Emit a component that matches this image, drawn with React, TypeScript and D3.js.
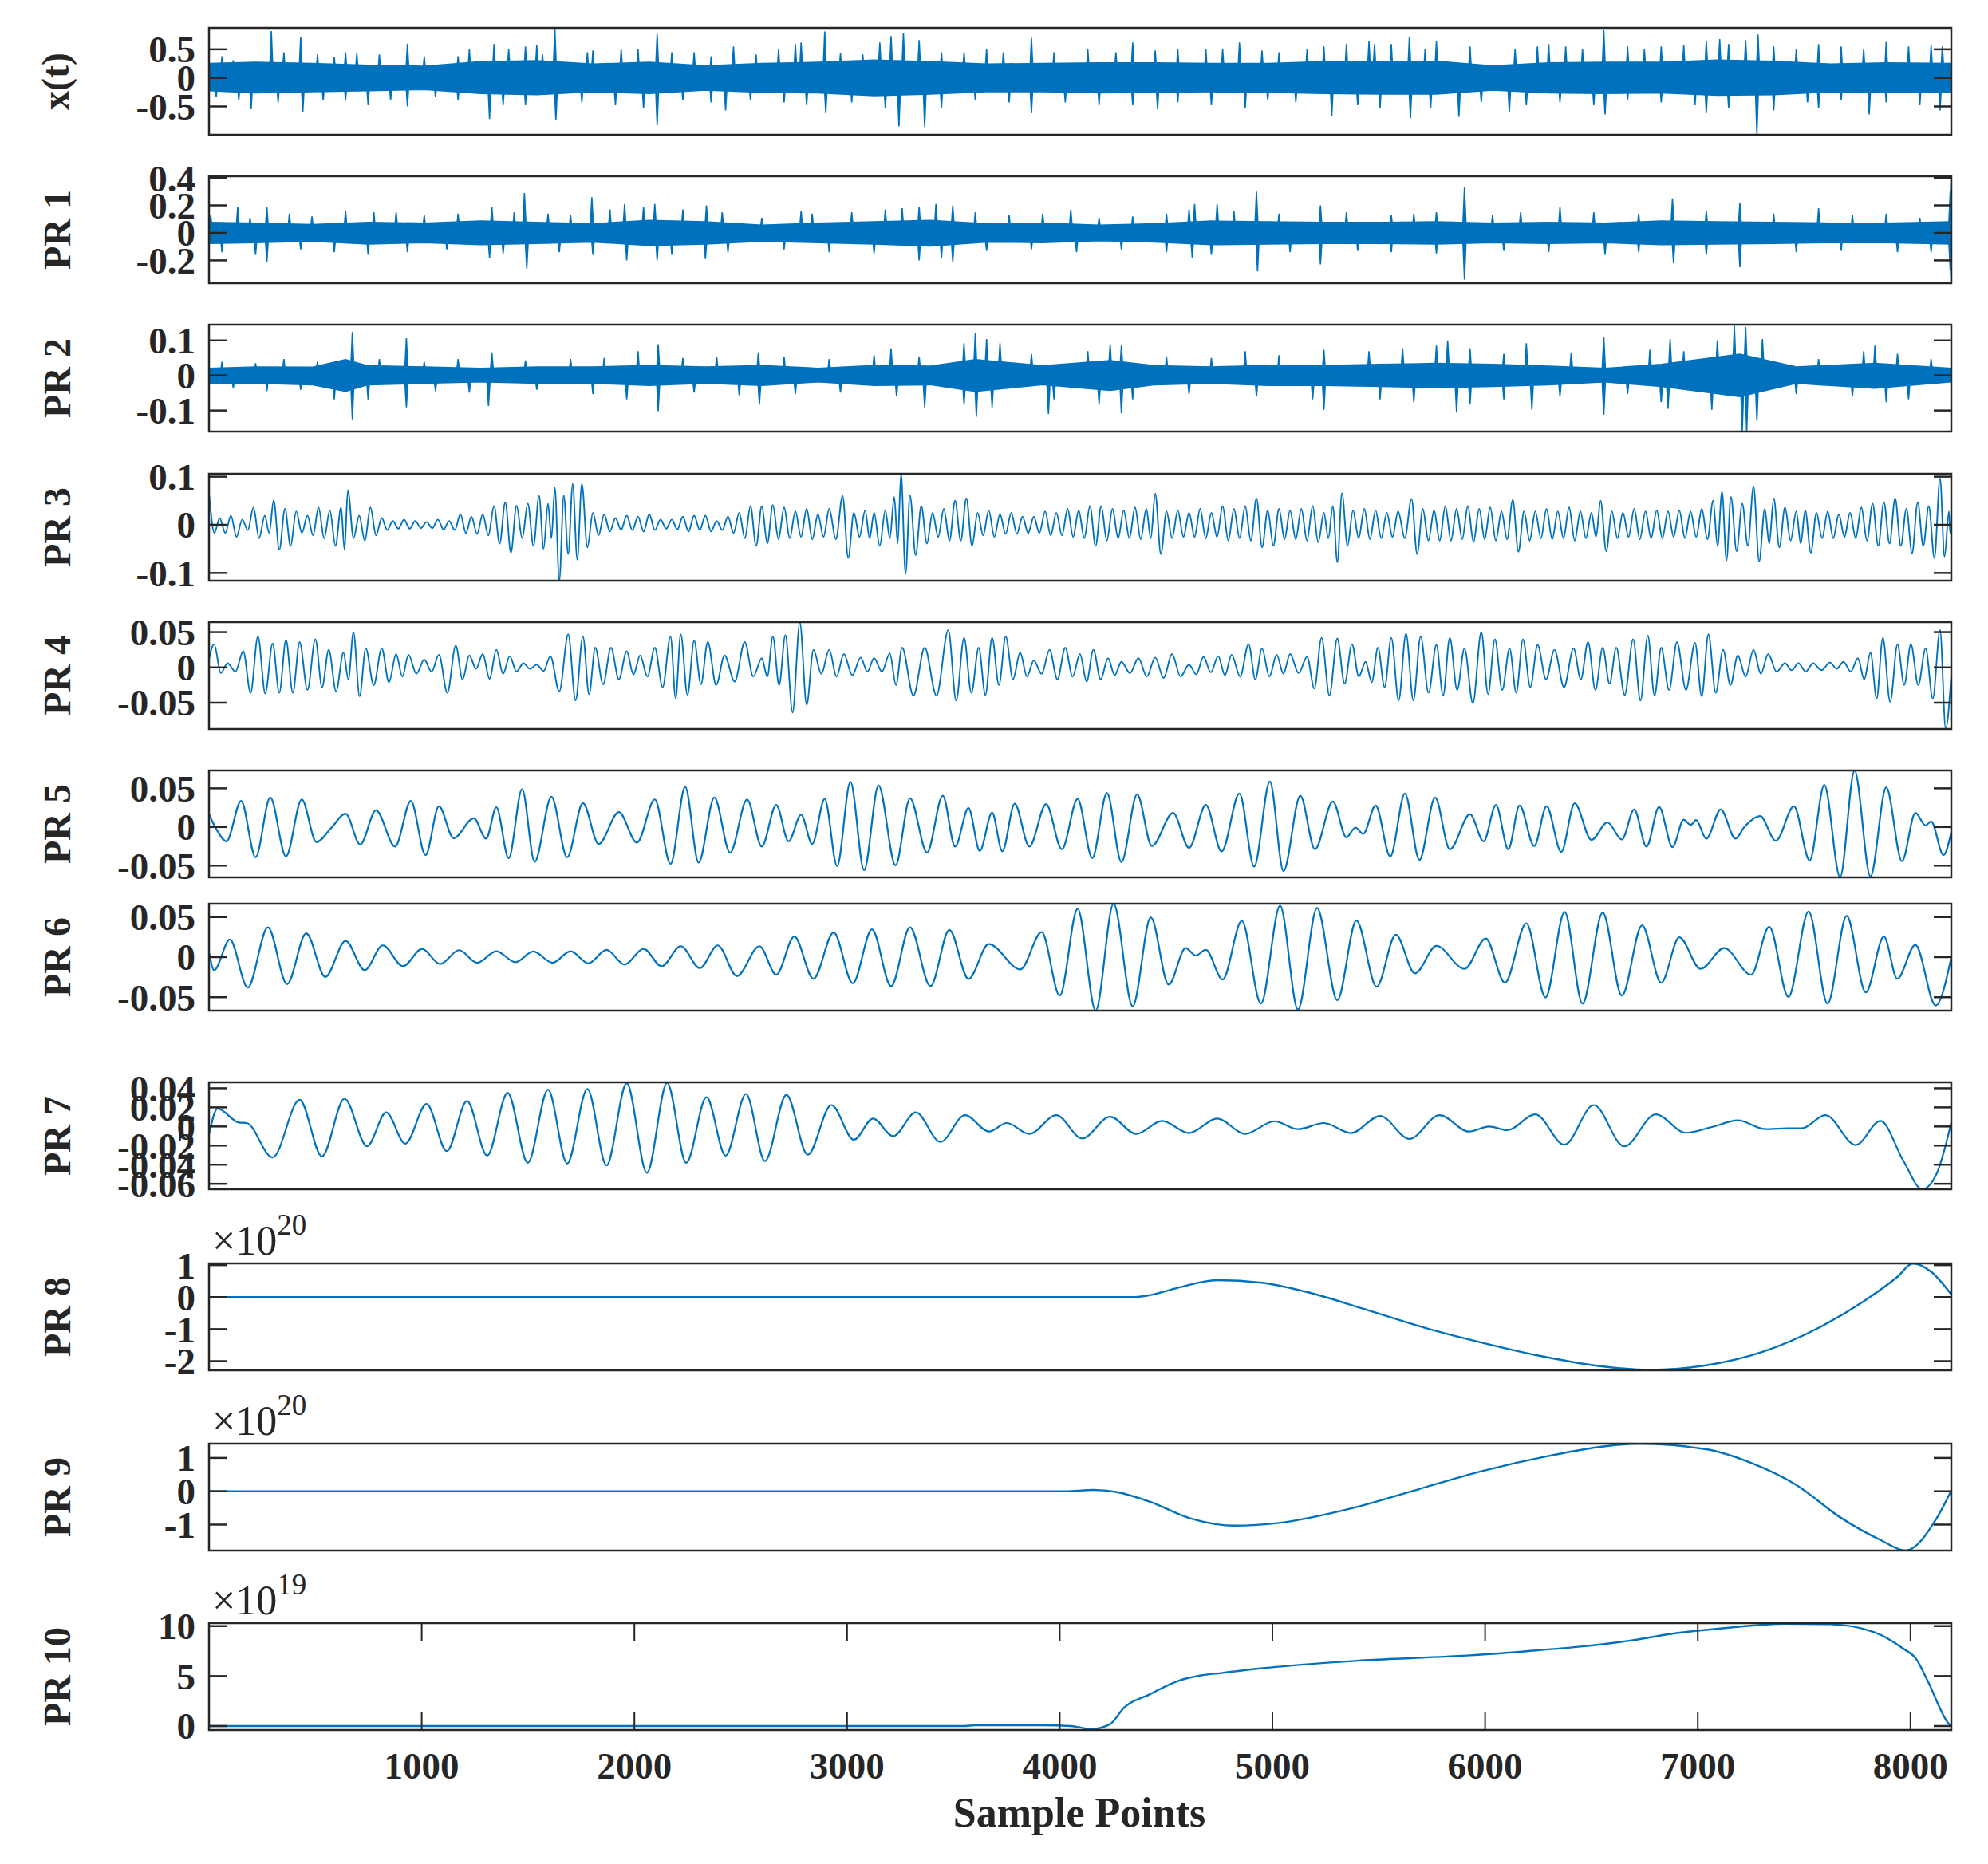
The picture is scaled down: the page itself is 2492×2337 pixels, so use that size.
import React from 'react';
import * as d3 from 'd3';

// ---- data (sample index, value) ----

const sampleTicks = [1000, 2000, 3000, 4000, 5000, 6000, 7000, 8000];
const panelNames = ['x(t)', 'PR 1', 'PR 2', 'PR 3', 'PR 4', 'PR 5', 'PR 6', 'PR 7', 'PR 8', 'PR 9', 'PR 10'];
const yDomains: [number, number][] = [
  [-0.996, 0.875], [-0.366, 0.412], [-0.16, 0.145], [-0.116, 0.106], [-0.0873, 0.0642],
  [-0.0652, 0.0731], [-0.0667, 0.0667], [-0.0657, 0.0462], [-2.286, 1.053], [-1.778, 1.428], [-0.4, 10.3],
];
const yTicks = [
  [-0.5, 0, 0.5], [-0.2, 0, 0.2, 0.4], [-0.1, 0, 0.1], [-0.1, 0, 0.1], [-0.05, 0, 0.05],
  [-0.05, 0, 0.05], [-0.05, 0, 0.05], [-0.06, -0.04, -0.02, 0, 0.02, 0.04], [-2, -1, 0, 1], [-1, 0, 1], [0, 5, 10],
];
const exponents = [0, 0, 0, 0, 0, 0, 0, 0, 20, 20, 19];

// dense signals: [sample, upper, lower] of the solid band + spikes sticking out of it
const xtBand = [
  [1, 0.25, -0.22], [219, 0.27, -0.26], [484, 0.25, -0.24], [748, 0.22, -0.22], [1012, 0.2, -0.2],
  [1277, 0.28, -0.27], [1541, 0.3, -0.29], [1805, 0.24, -0.24], [2070, 0.27, -0.27], [2334, 0.21, -0.21],
  [2599, 0.25, -0.25], [2863, 0.27, -0.26], [3127, 0.31, -0.31], [3392, 0.28, -0.28], [3656, 0.24, -0.24],
  [3920, 0.25, -0.24], [4185, 0.26, -0.26], [4449, 0.26, -0.25], [4713, 0.25, -0.24], [4978, 0.25, -0.25],
  [5242, 0.28, -0.27], [5506, 0.28, -0.28], [5771, 0.29, -0.28], [6035, 0.21, -0.21], [6299, 0.26, -0.26],
  [6564, 0.27, -0.27], [6828, 0.27, -0.26], [7092, 0.31, -0.3], [7357, 0.29, -0.29], [7621, 0.24, -0.24],
  [7886, 0.26, -0.25], [8192, 0.25, -0.25],
];
const xtSpikes = [
  [293, 0.82], [431, 0.71], [642, 0.45], [933, 0.6], [1340, 0.59], [1541, 0.57], [1626, 0.87], [1805, 0.48],
  [2107, 0.77], [2466, 0.55], [2784, 0.62], [2895, 0.81], [3265, 0.78], [3339, 0.66], [3867, 0.7], [4343, 0.62],
  [4845, 0.62], [5242, 0.55], [5480, 0.59], [5644, 0.72], [5771, 0.64], [6299, 0.59], [6558, 0.84], [6828, 0.55],
  [7103, 0.68], [7283, 0.76], [7568, 0.59], [7886, 0.63], [8097, 0.57],
  [198, -0.55], [441, -0.6], [748, -0.48], [933, -0.5], [1319, -0.72], [1631, -0.74], [2107, -0.83], [2429, -0.57],
  [2900, -0.62], [3244, -0.85], [3365, -0.86], [3867, -0.62], [4460, -0.55], [4872, -0.53], [5279, -0.67],
  [5649, -0.71], [5877, -0.68], [6114, -0.6], [6564, -0.64], [7040, -0.62], [7278, -0.99], [7568, -0.53],
  [7806, -0.64], [8139, -0.57],
  [61, 0.38], [114, 0.31], [352, 0.45], [510, 0.41], [589, 0.36], [695, 0.43], [801, 0.41], [1012, 0.38],
  [1171, 0.38], [1224, 0.5], [1409, 0.5], [1488, 0.55], [1568, 0.41], [1779, 0.45], [1938, 0.5], [2017, 0.5],
  [2176, 0.45], [2281, 0.45], [2361, 0.38], [2572, 0.41], [2678, 0.5], [2757, 0.59], [2969, 0.43], [3074, 0.41],
  [3154, 0.62], [3207, 0.73], [3444, 0.45], [3550, 0.45], [3656, 0.5], [3735, 0.45], [3973, 0.45], [4132, 0.5],
  [4264, 0.45], [4449, 0.48], [4555, 0.5], [4687, 0.5], [4766, 0.5], [4951, 0.48], [5031, 0.45], [5163, 0.5],
  [5348, 0.59], [5454, 0.64], [5559, 0.59], [5718, 0.5], [5929, 0.55], [6141, 0.5], [6246, 0.55], [6379, 0.55],
  [6458, 0.5], [6670, 0.55], [6749, 0.5], [6934, 0.57], [7040, 0.64], [7145, 0.59], [7225, 0.66], [7357, 0.55],
  [7463, 0.5], [7674, 0.55], [7780, 0.5], [7991, 0.55], [8150, 0.55],
  [34, -0.34], [140, -0.39], [325, -0.43], [537, -0.39], [642, -0.39], [854, -0.39], [1065, -0.34], [1171, -0.39],
  [1383, -0.48], [1488, -0.48], [1753, -0.43], [1911, -0.48], [2043, -0.53], [2228, -0.39], [2361, -0.43],
  [2546, -0.39], [2704, -0.43], [2810, -0.48], [3022, -0.43], [3180, -0.53], [3444, -0.53], [3603, -0.39],
  [3762, -0.43], [4026, -0.43], [4185, -0.48], [4343, -0.48], [4555, -0.43], [4713, -0.48], [4978, -0.39],
  [5110, -0.43], [5401, -0.48], [5506, -0.53], [5744, -0.53], [5982, -0.43], [6194, -0.48], [6352, -0.43],
  [6511, -0.48], [6670, -0.39], [6828, -0.43], [6987, -0.48], [7145, -0.53], [7357, -0.57], [7516, -0.43],
  [7674, -0.39], [7886, -0.43], [8044, -0.48],
];

const pr1Band = [
  [1, 0.075, -0.075], [219, 0.07, -0.07], [484, 0.06, -0.06], [748, 0.075, -0.08], [1012, 0.07, -0.07],
  [1277, 0.085, -0.085], [1541, 0.075, -0.075], [1805, 0.065, -0.065], [2070, 0.09, -0.09], [2334, 0.08, -0.08],
  [2599, 0.055, -0.06], [2863, 0.07, -0.07], [3127, 0.08, -0.08], [3392, 0.09, -0.095], [3656, 0.065, -0.065],
  [3920, 0.07, -0.07], [4185, 0.055, -0.055], [4449, 0.065, -0.065], [4713, 0.085, -0.085], [4978, 0.08, -0.08],
  [5242, 0.075, -0.075], [5506, 0.075, -0.075], [5771, 0.08, -0.08], [6035, 0.07, -0.07], [6299, 0.075, -0.075],
  [6564, 0.07, -0.07], [6828, 0.085, -0.085], [7092, 0.08, -0.08], [7357, 0.075, -0.075], [7621, 0.07, -0.07],
  [7886, 0.07, -0.07], [8192, 0.08, -0.08],
];
const pr1Spikes = [
  [135, 0.19], [272, 0.19], [775, 0.15], [1330, 0.19], [1483, 0.29], [1800, 0.26], [1954, 0.21], [2096, 0.21],
  [2339, 0.2], [2784, 0.16], [3259, 0.18], [3418, 0.21], [3497, 0.2], [4052, 0.17], [4634, 0.21], [4740, 0.21],
  [4925, 0.3], [5226, 0.2], [5559, 0.13], [5903, 0.33], [6352, 0.19], [6881, 0.25], [7198, 0.22], [7568, 0.18],
  [8044, 0.11], [8187, 0.3], [8191, 0.41],
  [272, -0.21], [748, -0.16], [1319, -0.18], [1494, -0.26], [1964, -0.2], [2107, -0.2], [2334, -0.19],
  [3339, -0.2], [3497, -0.21], [4079, -0.14], [4623, -0.18], [4930, -0.28], [5226, -0.23], [5903, -0.34],
  [6564, -0.16], [6886, -0.22], [7198, -0.25], [7939, -0.14], [8187, -0.27], [8191, -0.366],
  [8, 0.13], [193, 0.11], [378, 0.14], [484, 0.12], [642, 0.16], [880, 0.15], [1012, 0.13], [1171, 0.14],
  [1435, 0.15], [1594, 0.14], [1700, 0.13], [1885, 0.17], [2043, 0.19], [2228, 0.17], [2413, 0.15], [2599, 0.11],
  [2836, 0.14], [3022, 0.15], [3180, 0.17], [3339, 0.19], [3603, 0.15], [3762, 0.13], [3920, 0.14], [4185, 0.11],
  [4343, 0.12], [4502, 0.14], [4608, 0.17], [4819, 0.16], [5031, 0.14], [5348, 0.15], [5665, 0.14], [5771, 0.15],
  [6035, 0.13], [6167, 0.15], [6511, 0.15], [6722, 0.14], [7040, 0.16], [7357, 0.14], [7727, 0.13], [7886, 0.14],
  [61, -0.14], [219, -0.16], [431, -0.12], [589, -0.14], [933, -0.14], [1118, -0.12], [1383, -0.15], [1647, -0.14],
  [1805, -0.16], [2176, -0.16], [2440, -0.14], [2704, -0.12], [2916, -0.14], [3127, -0.15], [3444, -0.18],
  [3656, -0.13], [3867, -0.12], [4290, -0.12], [4502, -0.14], [4713, -0.16], [5083, -0.14], [5401, -0.13],
  [5559, -0.14], [5771, -0.15], [6088, -0.13], [6299, -0.14], [6722, -0.14], [7040, -0.16], [7463, -0.14],
  [7674, -0.13], [8097, -0.14],
];

const pr2Band = [
  [1, 0.02, -0.022], [219, 0.024, -0.022], [484, 0.023, -0.026], [642, 0.045, -0.045], [748, 0.027, -0.026],
  [1012, 0.024, -0.022], [1277, 0.02, -0.018], [1541, 0.024, -0.022], [1805, 0.024, -0.022], [2070, 0.028, -0.028],
  [2334, 0.024, -0.022], [2599, 0.028, -0.028], [2863, 0.02, -0.018], [3127, 0.028, -0.028], [3392, 0.026, -0.026],
  [3603, 0.045, -0.045], [3920, 0.027, -0.026], [4237, 0.042, -0.042], [4449, 0.027, -0.026], [4713, 0.024, -0.022],
  [4978, 0.028, -0.028], [5242, 0.028, -0.028], [5506, 0.031, -0.031], [5771, 0.034, -0.034], [6035, 0.031, -0.031],
  [6299, 0.026, -0.026], [6564, 0.02, -0.018], [6828, 0.031, -0.031], [7198, 0.06, -0.06], [7463, 0.024, -0.022],
  [7833, 0.034, -0.036], [8192, 0.02, -0.018],
];
const pr2Spikes = [
  [674, 0.124], [928, 0.106], [1330, 0.066], [2112, 0.089], [2583, 0.066], [3207, 0.077], [3603, 0.121],
  [3719, 0.092], [4290, 0.085], [4872, 0.069], [5242, 0.073], [5824, 0.1], [6194, 0.092], [6558, 0.111],
  [6870, 0.104], [7172, 0.142], [7225, 0.138], [7833, 0.085],
  [674, -0.125], [928, -0.091], [1314, -0.087], [2112, -0.102], [2588, -0.083], [3365, -0.091], [3608, -0.118],
  [3947, -0.11], [4290, -0.108], [5242, -0.098], [5866, -0.106], [6220, -0.098], [6558, -0.112], [6860, -0.095],
  [7209, -0.16], [7230, -0.16], [7886, -0.076],
  [61, 0.039], [219, 0.035], [352, 0.047], [510, 0.039], [801, 0.047], [1012, 0.039], [1171, 0.047], [1488, 0.043],
  [1700, 0.047], [1858, 0.05], [2017, 0.069], [2228, 0.05], [2387, 0.054], [2704, 0.054], [2916, 0.047],
  [3127, 0.058], [3339, 0.054], [3550, 0.092], [3656, 0.104], [3867, 0.062], [4132, 0.069], [4237, 0.089],
  [4502, 0.054], [4713, 0.05], [5031, 0.058], [5454, 0.069], [5612, 0.077], [5771, 0.085], [5929, 0.077],
  [6088, 0.062], [6405, 0.066], [6775, 0.073], [6934, 0.069], [7092, 0.1], [7304, 0.104], [7568, 0.047],
  [7780, 0.069], [7939, 0.062], [8097, 0.047],
  [114, -0.037], [272, -0.045], [431, -0.041], [589, -0.068], [748, -0.068], [1065, -0.045], [1224, -0.049],
  [1541, -0.041], [1805, -0.053], [1964, -0.068], [2281, -0.049], [2493, -0.056], [2757, -0.053], [2969, -0.049],
  [3233, -0.06], [3550, -0.083], [3682, -0.091], [3973, -0.068], [4185, -0.083], [4343, -0.068], [4608, -0.053],
  [4925, -0.06], [5189, -0.068], [5506, -0.068], [5665, -0.076], [5929, -0.083], [6088, -0.068], [6352, -0.06],
  [6670, -0.053], [6828, -0.076], [7066, -0.098], [7278, -0.129], [7463, -0.053], [7727, -0.06], [7991, -0.068],
];

// oscillating signals: [sample, peak, following trough]
const pr3Cycles = [
  [1, 0.061, -0.017], [50, 0.014, -0.017], [103, 0.019, -0.025], [156, 0.011, -0.011], [209, 0.036, -0.028],
  [262, 0.019, -0.017], [304, 0.051, -0.052], [357, 0.033, -0.044], [410, 0.028, -0.017], [463, 0.019, -0.022],
  [515, 0.036, -0.028], [568, 0.03, -0.044], [621, 0.036, -0.052], [653, 0.072, -0.028], [706, 0.019, -0.033],
  [759, 0.036, -0.022], [812, 0.014, -0.011], [864, 0.008, -0.008], [917, 0.011, -0.008], [970, 0.008, -0.007],
  [1023, 0.006, -0.007], [1076, 0.011, -0.01], [1129, 0.008, -0.011], [1182, 0.022, -0.017], [1234, 0.017, -0.019],
  [1287, 0.022, -0.022], [1340, 0.039, -0.039], [1393, 0.047, -0.058], [1446, 0.04, -0.028], [1499, 0.044, -0.044],
  [1552, 0.06, -0.05], [1594, 0.044, -0.028], [1626, 0.077, -0.116], [1668, 0.061, -0.061], [1710, 0.085, -0.072],
  [1753, 0.085, -0.047], [1805, 0.025, -0.022], [1858, 0.022, -0.014], [1911, 0.014, -0.011], [1964, 0.019, -0.011],
  [2017, 0.017, -0.014], [2070, 0.022, -0.011], [2123, 0.011, -0.008], [2176, 0.011, -0.01], [2228, 0.017, -0.014],
  [2281, 0.019, -0.011], [2334, 0.019, -0.014], [2387, 0.008, -0.011], [2440, 0.017, -0.017], [2493, 0.025, -0.028],
  [2546, 0.039, -0.044], [2599, 0.039, -0.039], [2651, 0.041, -0.03], [2704, 0.036, -0.028], [2757, 0.028, -0.025],
  [2810, 0.033, -0.03], [2863, 0.022, -0.025], [2916, 0.033, -0.03], [2979, 0.06, -0.069], [3032, 0.025, -0.025],
  [3085, 0.03, -0.028], [3127, 0.025, -0.044], [3180, 0.03, -0.028], [3222, 0.058, -0.039], [3254, 0.106, -0.102],
  [3296, 0.061, -0.063], [3349, 0.039, -0.039], [3402, 0.025, -0.025], [3455, 0.033, -0.033], [3508, 0.05, -0.033],
  [3561, 0.055, -0.044], [3614, 0.025, -0.022], [3666, 0.03, -0.025], [3719, 0.022, -0.019], [3772, 0.025, -0.019],
  [3825, 0.017, -0.017], [3878, 0.017, -0.017], [3931, 0.028, -0.022], [3984, 0.025, -0.022], [4037, 0.033, -0.025],
  [4089, 0.03, -0.028], [4142, 0.039, -0.044], [4195, 0.039, -0.033], [4248, 0.033, -0.028], [4301, 0.03, -0.028],
  [4354, 0.036, -0.03], [4407, 0.033, -0.028], [4449, 0.065, -0.061], [4502, 0.028, -0.028], [4555, 0.03, -0.025],
  [4608, 0.025, -0.025], [4660, 0.033, -0.028], [4713, 0.025, -0.025], [4766, 0.039, -0.033], [4819, 0.033, -0.028],
  [4872, 0.039, -0.033], [4925, 0.055, -0.047], [4978, 0.03, -0.044], [5031, 0.033, -0.03], [5083, 0.03, -0.03],
  [5136, 0.033, -0.033], [5189, 0.039, -0.036], [5242, 0.025, -0.028], [5284, 0.039, -0.078], [5327, 0.066, -0.044],
  [5379, 0.03, -0.028], [5432, 0.033, -0.03], [5485, 0.03, -0.028], [5538, 0.025, -0.025], [5591, 0.028, -0.028],
  [5654, 0.054, -0.061], [5707, 0.033, -0.033], [5760, 0.03, -0.033], [5813, 0.039, -0.033], [5866, 0.033, -0.03],
  [5919, 0.039, -0.036], [5972, 0.033, -0.03], [6024, 0.036, -0.033], [6077, 0.028, -0.03], [6130, 0.052, -0.056],
  [6183, 0.028, -0.033], [6236, 0.028, -0.028], [6289, 0.033, -0.03], [6342, 0.028, -0.028], [6395, 0.036, -0.033],
  [6448, 0.028, -0.028], [6500, 0.025, -0.025], [6543, 0.05, -0.055], [6596, 0.028, -0.028], [6648, 0.025, -0.025],
  [6701, 0.033, -0.03], [6754, 0.028, -0.028], [6807, 0.03, -0.028], [6860, 0.028, -0.025], [6913, 0.03, -0.028],
  [6966, 0.028, -0.025], [7019, 0.033, -0.03], [7072, 0.05, -0.044], [7114, 0.069, -0.074], [7156, 0.058, -0.055],
  [7209, 0.044, -0.044], [7262, 0.08, -0.076], [7315, 0.033, -0.039], [7357, 0.055, -0.047], [7410, 0.036, -0.033],
  [7463, 0.028, -0.039], [7505, 0.03, -0.058], [7558, 0.025, -0.028], [7611, 0.028, -0.028], [7663, 0.022, -0.025],
  [7716, 0.025, -0.028], [7769, 0.036, -0.033], [7822, 0.044, -0.044], [7875, 0.047, -0.039], [7928, 0.055, -0.044],
  [7981, 0.033, -0.059], [8034, 0.047, -0.044], [8086, 0.039, -0.069], [8139, 0.096, -0.066], [8181, 0.028, -0.017],
];
const pr3End = [8192, -0.01];

const pr4Cycles = [
  [24, 0.033, -0.008], [87, 0.006, -0.006], [161, 0.023, -0.036], [230, 0.044, -0.037], [299, 0.034, -0.036],
  [362, 0.039, -0.036], [426, 0.036, -0.032], [500, 0.04, -0.028], [563, 0.025, -0.034], [632, 0.021, -0.017],
  [679, 0.05, -0.041], [737, 0.027, -0.025], [812, 0.027, -0.021], [880, 0.019, -0.013], [938, 0.018, -0.009],
  [1012, 0.011, -0.006], [1081, 0.018, -0.036], [1160, 0.031, -0.017], [1224, 0.017, -0.002], [1287, 0.019, -0.016],
  [1351, 0.025, -0.009], [1414, 0.016, -0.006], [1478, 0.006, -0.002], [1541, 0.004, -0.005], [1605, 0.016, -0.034],
  [1689, 0.047, -0.047], [1758, 0.044, -0.038], [1816, 0.028, -0.024], [1890, 0.028, -0.017], [1964, 0.023, -0.01],
  [2027, 0.017, -0.013], [2096, 0.028, -0.028], [2170, 0.044, -0.044], [2218, 0.047, -0.039], [2281, 0.038, -0.024],
  [2345, 0.036, -0.025], [2424, 0.017, -0.02], [2519, 0.036, -0.013], [2599, 0.013, -0.013], [2651, 0.044, -0.025],
  [2710, 0.046, -0.064], [2778, 0.064, -0.053], [2842, 0.025, -0.009], [2916, 0.025, -0.013], [2985, 0.019, -0.011],
  [3064, 0.014, -0.006], [3127, 0.013, -0.006], [3201, 0.02, -0.025], [3259, 0.028, -0.04], [3365, 0.028, -0.04],
  [3476, 0.053, -0.047], [3550, 0.042, -0.036], [3619, 0.028, -0.039], [3682, 0.042, -0.025], [3746, 0.044, -0.017],
  [3814, 0.021, -0.013], [3878, 0.01, -0.009], [3952, 0.025, -0.017], [4026, 0.028, -0.013], [4095, 0.019, -0.02],
  [4158, 0.025, -0.017], [4227, 0.013, -0.011], [4290, 0.008, -0.008], [4370, 0.013, -0.013], [4449, 0.014, -0.015],
  [4528, 0.019, -0.013], [4608, 0.004, -0.01], [4676, 0.015, -0.007], [4745, 0.016, -0.011], [4808, 0.018, -0.013],
  [4888, 0.033, -0.017], [4951, 0.027, -0.013], [5020, 0.018, -0.009], [5083, 0.019, -0.008], [5163, 0.015, -0.03],
  [5231, 0.042, -0.04], [5305, 0.041, -0.023], [5374, 0.033, -0.013], [5438, 0.008, -0.021], [5496, 0.028, -0.028],
  [5559, 0.042, -0.047], [5628, 0.048, -0.047], [5697, 0.044, -0.036], [5771, 0.032, -0.04], [5834, 0.042, -0.032],
  [5903, 0.027, -0.051], [5982, 0.05, -0.038], [6046, 0.04, -0.032], [6115, 0.027, -0.036], [6178, 0.04, -0.028],
  [6247, 0.032, -0.017], [6326, 0.025, -0.028], [6416, 0.027, -0.017], [6484, 0.036, -0.032], [6553, 0.028, -0.023],
  [6617, 0.028, -0.039], [6696, 0.04, -0.047], [6765, 0.045, -0.04], [6828, 0.028, -0.032], [6902, 0.036, -0.032],
  [6987, 0.035, -0.041], [7050, 0.047, -0.036], [7119, 0.025, -0.025], [7188, 0.017, -0.013], [7262, 0.025, -0.009],
  [7331, 0.019, -0.006], [7410, 0.006, -0.004], [7473, 0.006, -0.006], [7542, 0.006, -0.004], [7621, 0.007, -0.002],
  [7685, 0.008, -0.006], [7753, 0.013, -0.017], [7812, 0.021, -0.044], [7870, 0.042, -0.049], [7939, 0.033, -0.025],
  [8002, 0.033, -0.025], [8071, 0.027, -0.044], [8139, 0.053, -0.087],
];
const pr4Start = [1, 0.013];
const pr4End = [8192, -0.01];

// smooth modes: extrema [sample, value]
const pr5Points = [
  [1, 0.016], [40, -0.0055], [82, -0.0186], [151, 0.0337], [219, -0.0392], [288, 0.0381], [362, -0.0381],
  [436, 0.0357], [505, -0.0196], [574, -0.0014], [642, 0.0172], [711, -0.0227], [785, 0.0216], [875, -0.0254],
  [949, 0.0337], [1018, -0.0364], [1081, 0.0268], [1150, -0.0144], [1245, 0.0113], [1303, -0.0151], [1351, 0.0254],
  [1409, -0.0405], [1472, 0.0491], [1531, -0.045], [1610, 0.0392], [1684, -0.0392], [1758, 0.0309], [1832, -0.022],
  [1927, 0.0192], [2012, -0.0203], [2096, 0.0357], [2170, -0.0478], [2239, 0.0519], [2302, -0.046], [2376, 0.0381],
  [2450, -0.0333], [2530, 0.0357], [2599, -0.0254], [2667, 0.0285], [2725, -0.0186], [2784, 0.0158], [2836, -0.022],
  [2895, 0.0364], [2953, -0.0505], [3016, 0.0584], [3080, -0.0557], [3148, 0.0536], [3228, -0.0495], [3296, 0.0371],
  [3376, -0.033], [3450, 0.0405], [3508, -0.0254], [3571, 0.0244], [3624, -0.0309], [3682, 0.0186], [3730, -0.0316],
  [3788, 0.0302], [3857, -0.0254], [3936, 0.0296], [4010, -0.0289], [4084, 0.0364], [4153, -0.0402], [4222, 0.044],
  [4290, -0.0454], [4364, 0.0423], [4433, -0.0247], [4533, 0.0182], [4608, -0.0271], [4687, 0.0285], [4761, -0.0316],
  [4845, 0.0433], [4914, -0.0512], [4988, 0.0588], [5052, -0.057], [5131, 0.0405], [5200, -0.0289], [5284, 0.033],
  [5348, -0.0134], [5390, -0.0007], [5427, -0.0089], [5485, 0.0278], [5554, -0.0381], [5623, 0.0433], [5691, -0.0426],
  [5765, 0.0381], [5834, -0.0289], [5929, 0.0165], [5993, -0.0186], [6051, 0.0285], [6109, -0.0289], [6162, 0.0278],
  [6231, -0.0247], [6289, 0.0268], [6358, -0.0323], [6421, 0.0306], [6500, -0.0168], [6575, 0.006], [6643, -0.0162],
  [6701, 0.0227], [6759, -0.0254], [6818, 0.0261], [6881, -0.0261], [6934, 0.0096], [6966, 0.0027], [6992, 0.0089],
  [7040, -0.0151], [7108, 0.0227], [7177, -0.0151], [7219, 0.0], [7293, 0.0141], [7367, -0.0179], [7452, 0.0268],
  [7526, -0.0433], [7595, 0.0543], [7669, -0.0649], [7737, 0.073], [7812, -0.0639], [7886, 0.0512], [7960, -0.0443],
  [8023, 0.0182], [8071, 0.002], [8097, 0.0072], [8155, -0.0364], [8192, -0.0065],
];

const pr6Points = [
  [1, 0.0047], [24, -0.0163], [98, 0.022], [182, -0.038], [277, 0.0373], [367, -0.0337], [457, 0.0297],
  [547, -0.0247], [642, 0.0203], [732, -0.0163], [817, 0.0147], [912, -0.0113], [1002, 0.0103], [1086, -0.0087],
  [1176, 0.0087], [1261, -0.007], [1351, 0.0073], [1441, -0.0063], [1525, 0.007], [1615, -0.007], [1700, 0.0073],
  [1784, -0.0077], [1869, 0.009], [1954, -0.0093], [2043, 0.0103], [2128, -0.0113], [2218, 0.0137], [2308, -0.0137],
  [2392, 0.0147], [2482, -0.0237], [2588, 0.0137], [2667, -0.022], [2752, 0.0257], [2842, -0.027], [2937, 0.0307],
  [3027, -0.0327], [3117, 0.0347], [3207, -0.0363], [3296, 0.0373], [3392, -0.0363], [3481, 0.034], [3571, -0.0273],
  [3666, 0.0163], [3815, -0.0153], [3915, 0.0313], [4000, -0.048], [4084, 0.0603], [4169, -0.0667], [4253, 0.0667],
  [4343, -0.0613], [4428, 0.0497], [4512, -0.0343], [4592, 0.0113], [4639, 0.002], [4687, 0.009], [4766, -0.028],
  [4856, 0.0453], [4946, -0.058], [5036, 0.064], [5120, -0.0653], [5210, 0.0613], [5305, -0.0537], [5395, 0.0457],
  [5490, -0.037], [5580, 0.028], [5670, -0.0203], [5771, 0.014], [5903, -0.0147], [6003, 0.0233], [6093, -0.032],
  [6194, 0.0423], [6284, -0.0503], [6374, 0.0563], [6458, -0.058], [6553, 0.0557], [6643, -0.048], [6738, 0.0397],
  [6828, -0.032], [6913, 0.0247], [7013, -0.0147], [7124, 0.0113], [7251, -0.022], [7336, 0.038], [7426, -0.0497],
  [7521, 0.057], [7610, -0.058], [7700, 0.0513], [7790, -0.044], [7875, 0.0257], [7938, -0.027], [8023, 0.0153],
  [8118, -0.0603], [8192, -0.0003],
];

const pr7Points = [
  [1, -0.0075], [40, 0.0188], [140, 0.0042], [177, 0.0036], [299, -0.0324], [426, 0.028], [531, -0.0313],
  [637, 0.0291], [743, -0.0208], [833, 0.0147], [923, -0.018], [1023, 0.0235], [1118, -0.0258], [1213, 0.0266],
  [1308, -0.0305], [1404, 0.0352], [1499, -0.038], [1594, 0.0385], [1684, -0.0388], [1779, 0.0393], [1869, -0.0407],
  [1964, 0.0452], [2059, -0.0485], [2154, 0.0457], [2244, -0.038], [2339, 0.0307], [2429, -0.0305], [2525, 0.0341],
  [2614, -0.0363], [2715, 0.0332], [2815, -0.0296], [2926, 0.0224], [3032, -0.0139], [3122, 0.0083], [3217, -0.0102],
  [3323, 0.0147], [3439, -0.0161], [3555, 0.0119], [3667, -0.0053], [3751, 0.0036], [3857, -0.0078], [3984, 0.0119],
  [4105, -0.0125], [4237, 0.0102], [4359, -0.0078], [4481, 0.0058], [4608, -0.0069], [4740, 0.0083], [4872, -0.0078],
  [5009, 0.0055], [5120, -0.0028], [5242, 0.0036], [5369, -0.0069], [5506, 0.0111], [5644, -0.013], [5786, 0.0119],
  [5924, -0.0053], [6019, 0.0], [6104, -0.0039], [6236, 0.0127], [6373, -0.0191], [6511, 0.0224], [6654, -0.0208],
  [6802, 0.0127], [6944, -0.0066], [7066, -0.0006], [7188, 0.0064], [7320, -0.0028], [7420, -0.0019], [7489, -0.0019],
  [7600, 0.0119], [7743, -0.0194], [7859, 0.0058], [7965, -0.0352], [8055, -0.0657], [8124, -0.049], [8192, 0.0042],
];

// trend components (×1e20, ×1e20, ×1e19)
const pr8Points = [
  [1, 0], [4343, 0], [4422, 0.06], [4555, 0.29], [4740, 0.53], [4950, 0.45], [5150, 0.18], [5454, -0.42],
  [5718, -0.96], [5929, -1.33], [6246, -1.82], [6511, -2.13], [6775, -2.27], [7040, -2.13], [7304, -1.71],
  [7568, -0.96], [7780, -0.13], [7938, 0.63], [8012, 1.05], [8097, 0.79], [8192, 0.08],
];
const pr9Points = [
  [1, 0], [4026, 0], [4158, 0.04], [4264, -0.02], [4422, -0.31], [4608, -0.8], [4819, -1.03], [5031, -0.95],
  [5348, -0.55], [5665, 0.02], [5982, 0.6], [6299, 1.06], [6564, 1.35], [6722, 1.428], [7040, 1.26], [7251, 0.85],
  [7463, 0.19], [7674, -0.8], [7859, -1.46], [7976, -1.778], [8124, -0.8], [8192, 0.02],
];
const pr10Points = [
  [1, 0], [3550, 0], [3603, 0.08], [3920, 0.08], [4052, 0], [4148, -0.3], [4237, 0.19], [4301, 1.81], [4422, 3.16],
  [4555, 4.51], [4660, 5.05], [4766, 5.32], [4925, 5.73], [5136, 6.14], [5401, 6.54], [5665, 6.81], [5929, 7.08],
  [6194, 7.49], [6458, 7.97], [6669, 8.51], [6881, 9.24], [7145, 9.84], [7410, 10.24], [7621, 10.19], [7832, 9.38],
  [7965, 7.76], [8028, 6.68], [8081, 4.51], [8182, 0.19], [8192, 0],
];

// ---- layout ----
const W = 2492;
const H = 2337;
const LEFT = 262;
const RIGHT = 2446;
const PANEL_H = 134;
const panelTops = [35, 221, 407, 594, 780, 966, 1133, 1357, 1584, 1810, 2035];
const BLUE = '#0072BD';
const INK = '#262626';
const FONT = '"Liberation Serif", "Times New Roman", Times, serif';
const TICK_LEN = 22;
const SPIKE_HALF = 9; // half base width of a spike, in samples

const x = d3.scaleLinear().domain([0, 8192]).range([LEFT, RIGHT]);

function cyclesToPoints(rows: number[][], start: number[] | null, end: number[]) {
  const pts: number[][] = [];
  if (start) pts.push(start);
  rows.forEach((r, i) => {
    pts.push([r[0], r[1]]);
    const next = i < rows.length - 1 ? rows[i + 1][0] : end[0];
    pts.push([(r[0] + next) / 2, r[2]]);
  });
  pts.push(end);
  return pts;
}

function Panel({ i }: { i: number }) {
  const top = panelTops[i];
  const bottom = top + PANEL_H;
  const y = d3.scaleLinear().domain(yDomains[i]).range([bottom, top]);
  const clipId = `clip-${i}`;

  const smooth = d3.line<number[]>().x(d => x(d[0])).y(d => y(d[1])).curve(d3.curveMonotoneX);
  const band = d3.area<number[]>().x(d => x(d[0])).y0(d => y(d[2])).y1(d => y(d[1]));

  let marks: React.ReactNode = null;
  const dense = [[xtBand, xtSpikes], [pr1Band, pr1Spikes], [pr2Band, pr2Spikes]][i];
  if (dense) {
    const [b, s] = dense;
    const spikePath = s
      .map(d => `M${x(d[0] - SPIKE_HALF)},${y(0)}L${x(d[0])},${y(d[1])}L${x(d[0] + SPIKE_HALF)},${y(0)}Z`)
      .join('');
    marks = (
      <g>
        <path d={band(b) || ''} fill={BLUE} stroke={BLUE} strokeWidth={2} />
        <path d={spikePath} fill={BLUE} stroke={BLUE} strokeWidth={1.6} strokeLinejoin="miter" />
      </g>
    );
  } else {
    const series: Record<number, number[][]> = {
      3: cyclesToPoints(pr3Cycles, null, pr3End),
      4: cyclesToPoints(pr4Cycles, pr4Start, pr4End),
      5: pr5Points,
      6: pr6Points,
      7: pr7Points,
      8: pr8Points,
      9: pr9Points,
      10: pr10Points,
    };
    const w = i >= 8 ? 2.4 : i >= 5 ? 2.2 : 1.9;
    marks = <path d={smooth(series[i]) || ''} fill="none" stroke={BLUE} strokeWidth={w} strokeLinejoin="round" />;
  }

  const exp = exponents[i];
  return (
    <g>
      <clipPath id={clipId}>
        <rect x={LEFT} y={top} width={RIGHT - LEFT} height={PANEL_H} />
      </clipPath>
      <g clipPath={`url(#${clipId})`}>{marks}</g>
      {yTicks[i].map(t => (
        <g key={t}>
          <line x1={LEFT} x2={LEFT + TICK_LEN} y1={y(t)} y2={y(t)} stroke={INK} strokeWidth={2.5} />
          <line x1={RIGHT - TICK_LEN} x2={RIGHT} y1={y(t)} y2={y(t)} stroke={INK} strokeWidth={2.5} />
          <text x={245} y={y(t)} dy="0.35em" textAnchor="end" fontFamily={FONT} fontWeight="bold" fontSize={47} fill={INK}>
            {String(t)}
          </text>
        </g>
      ))}
      {i === 10 &&
        sampleTicks.map(t => (
          <g key={t}>
            <line x1={x(t)} x2={x(t)} y1={bottom} y2={bottom - TICK_LEN} stroke={INK} strokeWidth={2} />
            <line x1={x(t)} x2={x(t)} y1={top} y2={top + TICK_LEN} stroke={INK} strokeWidth={2} />
            <text x={x(t)} y={2230} textAnchor="middle" fontFamily={FONT} fontWeight="bold" fontSize={47} fill={INK}>
              {t}
            </text>
          </g>
        ))}
      <rect x={LEFT} y={top} width={RIGHT - LEFT} height={PANEL_H} fill="none" stroke={INK} strokeWidth={2.5} />
      <text
        transform={`translate(${i === 0 ? 69 : 71},${top + PANEL_H / 2}) rotate(-90)`}
        textAnchor="middle"
        dy="0.35em"
        fontFamily={FONT}
        fontWeight="bold"
        fontSize={48}
        fill={INK}
      >
        {panelNames[i]}
      </text>
      {exp > 0 && (
        <text x={266} y={top - 11} fontFamily={FONT} fill={INK}>
          <tspan fontSize={52}>×10</tspan>
          <tspan fontSize={37} dy={-25}>{exp}</tspan>
        </text>
      )}
    </g>
  );
}

export default function App() {
  return (
    <svg
      width={W}
      height={H}
      viewBox={`0 0 ${W} ${H}`}
      style={{ position: 'absolute', left: 0, top: 0, background: '#fff', display: 'block' }}
    >
      <rect width={W} height={H} fill="#fff" />
      {panelNames.map((_, i) => (
        <Panel key={i} i={i} />
      ))}
      <text x={1353} y={2290} textAnchor="middle" fontFamily={FONT} fontWeight="bold" fontSize={52} fill={INK}>
        Sample Points
      </text>
    </svg>
  );
}
